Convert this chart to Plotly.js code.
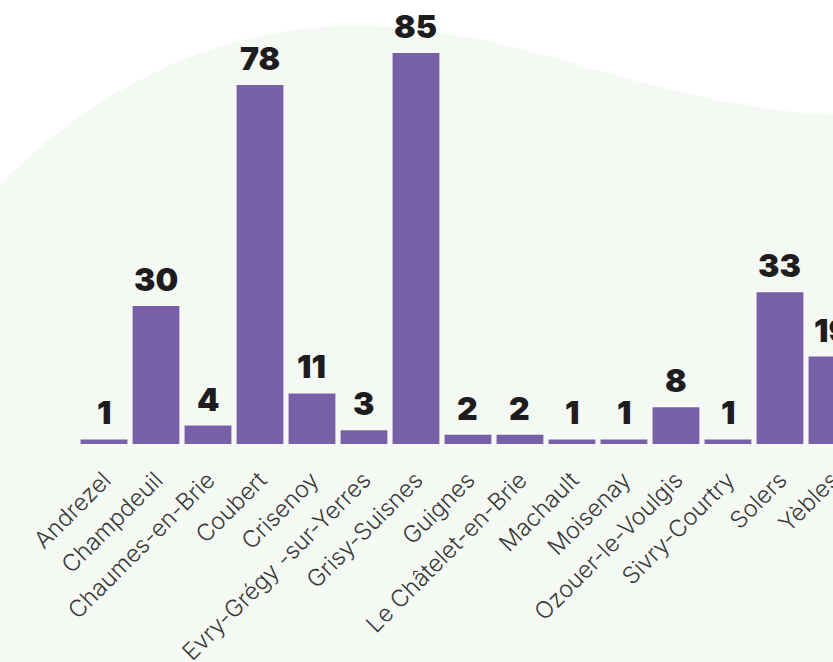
<!DOCTYPE html>
<html><head><meta charset="utf-8">
<script src="https://cdn.plot.ly/plotly-3.0.1.min.js"></script>
<style>html,body{margin:0;padding:0;background:#fff;}#chart{width:833px;height:662px;}</style>
</head><body><div id="chart"></div>
<script>
const communes = ["Andrezel","Champdeuil","Chaumes-en-Brie","Coubert","Crisenoy","Evry-Grégy -sur-Yerres","Grisy-Suisnes","Guignes","Le Châtelet-en-Brie","Machault","Moisenay","Ozouer-le-Voulgis","Sivry-Courtry","Solers","Yèbles"];
const values = [1,30,4,78,11,3,85,2,2,1,1,8,1,33,19];

const W = 833, H = 662, ML = 78, MR = 0, MT = 0, MB = 218;
const PW = W - ML - MR, PH = H - MT - MB;
function px(x){return ((x-ML)/PW).toFixed(4);}
function py(y){return ((H-MB-y)/PH).toFixed(4);}
function P(x,y){return px(x)+','+py(y);}
const blob = 'M'+P(-5,190)+' C'+P(90,90)+' '+P(220,22)+' '+P(370,26)+
  ' C'+P(470,29)+' '+P(560,60)+' '+P(640,82)+
  ' C'+P(710,100)+' '+P(770,113)+' '+P(845,115)+
  ' L'+P(845,700)+' L'+P(-5,700)+' Z';

const trace = {
  type:'bar', x: communes, y: values,
  marker:{color:'#7860a9'},
  hoverinfo:'none', cliponaxis:false
};
const annotations = communes.map((c,i)=>({
  x:c, y:values[i], xref:'x', yref:'y', text:String(values[i]),
  showarrow:false, yanchor:'bottom', yshift:5,
  font:{family:'Inter, sans-serif', size:32, weight:900, color:'#1e1c1e'}
}));
const layout = {
  width:W, height:H,
  margin:{l:ML,r:MR,t:MT,b:MB},
  paper_bgcolor:'#ffffff', plot_bgcolor:'rgba(0,0,0,0)',
  bargap:0.1,
  showlegend:false,
  xaxis:{type:'category', range:[-0.5,14.02], tickangle:-45, showgrid:false, showline:false, zeroline:false,
    ticks:'outside', ticklen:12, tickcolor:'rgba(0,0,0,0)',
    tickfont:{family:'Inter, sans-serif', size:23.5, weight:300, color:'#3a3a3a'}},
  yaxis:{range:[0,96.5], visible:false, showgrid:false, zeroline:false},
  shapes:[{type:'path', xref:'paper', yref:'paper', path:blob, fillcolor:'#f5f9f4', line:{width:0}, layer:'below'}],
  annotations: annotations
};
Plotly.newPlot('chart',[trace],layout,{staticPlot:true,displayModeBar:false});
</script></body></html>
